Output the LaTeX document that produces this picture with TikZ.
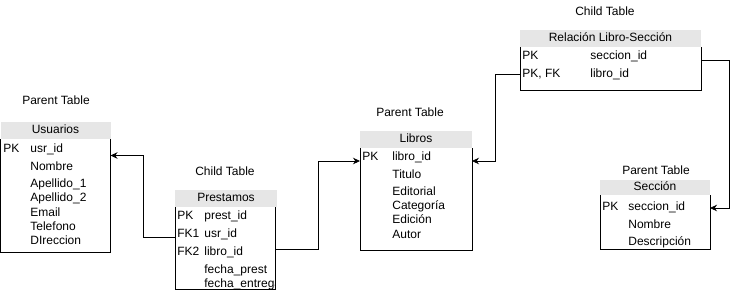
\documentclass[tikz,border=0pt]{standalone}
\usepackage{fontspec}
\setmainfont{Liberation Sans}
\usetikzlibrary{arrows.meta}

\definecolor{headgray}{HTML}{E6E6E6}

\tikzset{
  tbltitle/.style={inner sep=0pt, text height=8.5pt, text depth=2.5pt},
  tblhead/.style={fill=headgray, inner sep=0pt, outer sep=0pt, anchor=north west,
    minimum height=17, text height=8.5pt, text depth=2.5pt},
  tblbody/.style={inner sep=0pt, outer sep=0pt, anchor=north},
  fld/.style={anchor=west, inner sep=0pt, text height=8.5pt, text depth=2pt},
  fk/.style={-{Stealth[length=7pt,width=6.5pt]}, line width=0.8pt}
}

\begin{document}
\begin{tikzpicture}[x=1pt, y=-1pt, font=\fontsize{12}{14}\selectfont, line width=0.8pt]
\useasboundingbox (0,0) rectangle (740,292);

% Usuarios
\node[tbltitle] (usuT) at (56,101) {Parent Table};
\node[tblhead, minimum width=110] (usuH) at (0.5,122) {Usuarios};
\node[tblbody, minimum width=110, minimum height=113] (usu) at (usuH.south) {};
\draw (usu.north west) |- (usu.south east) -- (usu.north east);
\node[fld] (usuPK) at (3,149.5) {PK};
\node[fld] (usrid) at (30,149.5) {usr\_id};
\node[fld] (usuNom) at (30,167.5) {Nombre};
\node[fld] (usuAp1) at (30,184.5) {Apellido\_1};
\node[fld] (usuAp2) at (30,198.5) {Apellido\_2};
\node[fld] (usuMail) at (30,213.5) {Email};
\node[fld] (usuTel) at (30,227.5) {Telefono};
\node[fld] (usuDir) at (30,241) {DIreccion};

% Prestamos
\node[tbltitle] (preT) at (225,172) {Child Table};
\node[tblhead, minimum width=102] (preH) at (175,190) {Prestamos};
\node[tblbody, minimum width=100, minimum height=82] (pre) at ([xshift=-1pt]preH.south) {};
\draw (pre.north west) |- (pre.south east) -- (pre.north east);
\node[fld] (prePK) at (177,216.5) {PK};
\node[fld] (prestid) at (204,216.5) {prest\_id};
\node[fld] (preFK1) at (177,234) {FK1};
\node[fld] (preUsr) at (204,234) {usr\_id};
\node[fld] (preFK2) at (177,252) {FK2};
\node[fld] (preLibro) at (204,252) {libro\_id};
\node[fld] (preFPrest) at (204,270) {fecha\_prest};
\begin{scope}
  \clip (pre.north west) rectangle (pre.south east);
  \node[fld] (preFEntr) at (204,284) {fecha\_entrega};
\end{scope}

% Libros
\node[tbltitle] (libT) at (410,113) {Parent Table};
\node[tblhead, minimum width=112] (libH) at (360,131) {Libros};
\node[tblbody, minimum width=112, minimum height=102] (lib) at (libH.south) {};
\draw (lib.north west) |- (lib.south east) -- (lib.north east);
\node[fld] (libPK) at (362,157.5) {PK};
\node[fld] (libroid) at (392,157.5) {libro\_id};
\node[fld] (libTit) at (392,175.5) {Titulo};
\node[fld] (libEdit) at (392,192.5) {Editorial};
\node[fld] (libCat) at (392,206.5) {Categoría};
\node[fld] (libEdic) at (392,220.5) {Edición};
\node[fld] (libAut) at (392,235) {Autor};

% Relacion Libro-Seccion
\node[tbltitle] (relT) at (605,12) {Child Table};
\node[tblhead, minimum width=181] (relH) at (520,30) {Relación Libro-Sección};
\node[tblbody, minimum width=181, minimum height=43] (rel) at (relH.south) {};
\draw (rel.north west) |- (rel.south east) -- (rel.north east);
\node[fld] (relPK) at (522,56.5) {PK};
\node[fld] (relSecc) at (590,56.5) {seccion\_id};
\node[fld] (relPKFK) at (522,74.5) {PK, FK};
\node[fld] (relLibro) at (590,74.5) {libro\_id};

% Seccion
\node[tbltitle] (secT) at (656,171) {Parent Table};
\node[tblhead, minimum width=110, minimum height=15] (secH) at (600,180) {Sección};
\node[tblbody, minimum width=110, minimum height=54] (sec) at (secH.south) {};
\draw (sec.north west) |- (sec.south east) -- (sec.north east);
\node[fld] (secPK) at (602,207.5) {PK};
\node[fld] (seccid) at (628,207.5) {seccion\_id};
\node[fld] (secNom) at (628,225.5) {Nombre};
\node[fld] (secDesc) at (628,242.5) {Descripción};

% foreign keys
\draw[fk] ([yshift=-3.5pt]pre.west |- preFK1) -- ++(-32,0) |- ([yshift=-6pt]usu.east |- usrid);
\draw[fk] ([yshift=2.5pt]pre.east |- preFK2) -- ++(43,0) |- ([yshift=-3.5pt]lib.west |- libroid);
\draw[fk] (rel.west |- relPKFK) -- ++(-25,0) |- ([yshift=-3.5pt]lib.east |- libroid);
\draw[fk] ([yshift=-3.5pt]rel.east |- relSecc) -- ++(28,0) |- ([yshift=-0.5pt]sec.east |- seccid);
\end{tikzpicture}
\end{document}
